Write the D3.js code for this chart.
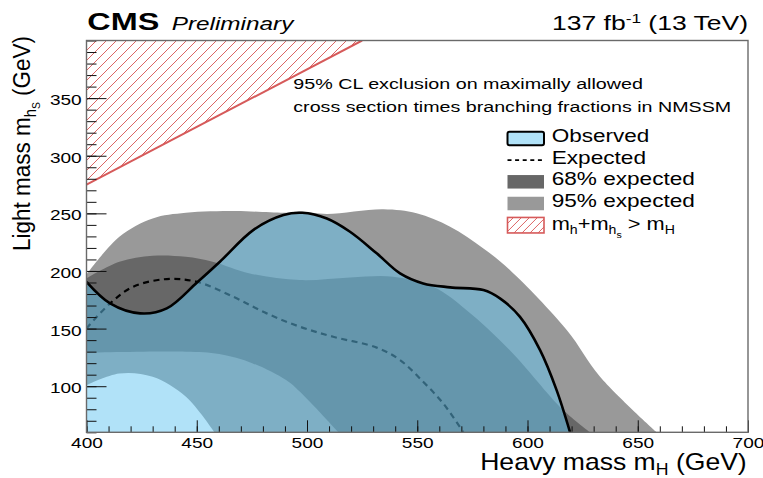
<!DOCTYPE html>
<html><head><meta charset="utf-8">
<script src="https://cdn.jsdelivr.net/npm/d3@7"></script>
<style>html,body{margin:0;padding:0;background:#fff;} svg{display:block;}</style>
</head><body>
<svg id="chart" width="763" height="478"></svg>
<script>
// ---------- data (GeV) ----------
const observedMH  = [400, 410.7, 424.3, 436.4, 450, 460.5, 475.6, 489.3, 497.8, 509, 519.5, 531.6, 542.2, 552.7, 564.9, 580, 587.5, 596.6, 605.7, 613.2, 619.3];
const observedMhs = [190.6, 171.9, 163.2, 167.5, 189.8, 208, 235.5, 248.5, 250.5, 245.5, 234, 215.3, 197.9, 189.2, 185.8, 183.4, 176.2, 160.2, 131.3, 96.6, 60];

const expectedMH  = [400, 410.7, 421.2, 436.4, 450, 466.6, 481.7, 496.8, 511.9, 531.6, 542.2, 552.7, 561.8, 570.9];
const expectedMhs = [150.2, 171.9, 186.3, 193, 190.6, 177.6, 163.2, 151.6, 142.9, 133.5, 122.7, 103.8, 85, 60];

const up95MH  = [400, 414.9, 430, 445.1, 467.8, 490.5, 497, 509, 534.6, 549.7, 564.9, 580, 592, 617.8, 632.9, 658.6];
const up95Mhs = [197, 229.7, 245.6, 250.5, 252, 250.5, 251.5, 249.4, 253.5, 250, 238.4, 219.6, 200.8, 148.7, 108.2, 60];
const lo95MH  = [400, 414.9, 430, 445.1, 458];
const lo95Mhs = [101, 111.1, 108.2, 90.8, 60];

const up68MH  = [400, 414.9, 430, 445, 457.2, 474.1, 496.8, 519.5, 539.1, 557.3, 572.4, 592, 616.2, 628.3];
const up68Mhs = [193.6, 208, 213.2, 212.3, 208, 197.9, 192.1, 194.4, 195, 186.3, 166, 131.3, 79.3, 60];
const lo68MH  = [400, 445, 460.2, 475.4, 490.5, 496.8, 514.2];
const lo68Mhs = [129, 129.9, 127.9, 119.8, 105.3, 95.1, 60];

// kinematic limit m_h + m_hs > m_H  (m_hs = m_H - 125)
const limitMH  = [400, 525];
const limitMhs = [275, 400];

const xDomain = [400, 700];
const yDomain = [60, 400];
const xMajorTicks = [400, 450, 500, 550, 600, 650, 700];
const yMajorTicks = [100, 150, 200, 250, 300, 350];
const xMinorTicks = d3.range(400, 701, 10);
const yMinorTicks = d3.range(60, 401, 10);

const legendLabels = ["Observed", "Expected", "68% expected", "95% expected", "limit"];

// ---------- setup ----------
const FONT = "'Liberation Sans', Arial, Helvetica, sans-serif";
const svg = d3.select("#chart").style("font-family", FONT);
const L = 86.5, R = 748, T = 40.5, B = 432.3;
const x = d3.scaleLinear().domain(xDomain).range([L, R]);
const y = d3.scaleLinear().domain(yDomain).range([B, T]);
const HATCH = "#dc6464";

const zip = (a, b) => a.map((v, i) => [v, b[i]]);
const lineGen = d3.line().x(d => x(d[0])).y(d => y(d[1])).curve(d3.curveCatmullRom.alpha(0.5));
const straight = d3.line().x(d => x(d[0])).y(d => y(d[1]));
const cont = p => p.replace(/^M/, "L");

const defs = svg.append("defs");
defs.append("clipPath").attr("id", "plotclip").append("rect")
  .attr("x", L).attr("y", T).attr("width", R - L).attr("height", B - T);
const hatchPoly = [[limitMH[0], limitMhs[0]], [limitMH[1], limitMhs[1]], [limitMH[0], limitMhs[1]]];
defs.append("clipPath").attr("id", "hatchclip").append("path").attr("d", straight(hatchPoly) + "Z");

const plot = svg.append("g").attr("clip-path", "url(#plotclip)");

// hatched kinematic region (explicit 45-degree lines, clipped to triangle)
const hg = plot.append("g").attr("clip-path", "url(#hatchclip)");
d3.range(L + T - 20, L + B + 400, 10).forEach(c => {
  hg.append("line").attr("x1", c - B).attr("y1", B).attr("x2", c - T + 10).attr("y2", T - 10)
    .attr("stroke", HATCH).attr("stroke-width", 1);
});
plot.append("path").attr("d", straight(zip(limitMH, limitMhs)))
  .attr("fill", "none").attr("stroke", "#d65a5a").attr("stroke-width", 2);

// 95% band
const up95 = zip(up95MH, up95Mhs), lo95 = zip(lo95MH, lo95Mhs);
plot.append("path").attr("d", lineGen(up95) + cont(lineGen(lo95.slice().reverse())) + "Z")
  .attr("fill", "#999999");
// 68% band
const up68 = zip(up68MH, up68Mhs), lo68 = zip(lo68MH, lo68Mhs);
plot.append("path").attr("d", lineGen(up68) + cont(lineGen(lo68.slice().reverse())) + "Z")
  .attr("fill", "#676767");

// ticks (under the translucent observed fill)
function ticks(axisFn, vals, size, tr) {
  const g = svg.append("g").attr("transform", tr)
    .call(axisFn.tickValues(vals).tickSize(size).tickFormat(""));
  g.select(".domain").remove();
  g.selectAll("line").attr("stroke", "#111").attr("stroke-width", 1);
  return g;
}
ticks(d3.axisBottom(x), xMinorTicks, -6, `translate(0,${B})`);
ticks(d3.axisBottom(x), xMajorTicks, -12, `translate(0,${B})`);
ticks(d3.axisLeft(y), yMinorTicks, -10, `translate(${L},0)`);
ticks(d3.axisLeft(y), yMajorTicks, -20, `translate(${L},0)`);

// expected (dashed)
plot.append("path").attr("d", lineGen(zip(expectedMH, expectedMhs)))
  .attr("fill", "none").attr("stroke", "#000").attr("stroke-width", 2.2)
  .attr("stroke-dasharray", "6,4.5");

// observed fill + line
const obs = zip(observedMH, observedMhs);
const OBS_FILL = "#63c6f1", OBS_OP = 0.5;
plot.append("path")
  .attr("d", lineGen(obs) + `L${x(observedMH[0])},${y(yDomain[0])}Z`)
  .attr("fill", OBS_FILL).attr("fill-opacity", OBS_OP);
plot.append("path").attr("d", lineGen(obs))
  .attr("fill", "none").attr("stroke", "#000").attr("stroke-width", 2.6);

// frame
svg.append("rect").attr("x", L).attr("y", T).attr("width", R - L).attr("height", B - T)
  .attr("fill", "none").attr("stroke", "#6a6a6a").attr("stroke-width", 1.4);

// ---------- text helpers ----------
function txt(xp, yp, size, anchor, opts = {}) {
  const g = svg.append("g").attr("transform", `translate(${xp},${yp})`);
  const t = g.append("text").attr("font-size", size).attr("text-anchor", anchor).attr("fill", "#000");
  if (opts.weight) t.attr("font-weight", opts.weight);
  if (opts.style) t.attr("font-style", opts.style);
  return { g, t, xp, yp, rot: opts.rot };
}
function fit(o, width) {
  const w = o.t.node().getComputedTextLength();
  const s = width / w;
  o.g.attr("transform", `translate(${o.xp},${o.yp})${o.rot ? " rotate(-90)" : ""} scale(${s},1)`);
}
function sub(t, s, size, dy) { t.append("tspan").attr("font-size", size).attr("dy", dy).text(s); }

// tick labels
const xl = svg.append("g").attr("transform", `translate(0,${B})`)
  .call(d3.axisBottom(x).tickValues(xMajorTicks).tickSize(0).tickFormat(d3.format("d")));
xl.select(".domain").remove();
xl.selectAll("text").attr("y", 0).attr("dy", null).attr("font-size", 15.5)
  .attr("font-family", FONT).attr("fill", "#000")
  .attr("transform", "translate(0,15.4) scale(1.23,1)");
const yl = svg.append("g").attr("transform", `translate(${L},0)`)
  .call(d3.axisLeft(y).tickValues(yMajorTicks).tickSize(0).tickFormat(d3.format("d")));
yl.select(".domain").remove();
yl.selectAll("text").attr("x", 0).attr("dy", "0.36em").attr("font-size", 15.5)
  .attr("font-family", FONT).attr("fill", "#000")
  .attr("transform", "translate(-4.8,1) scale(1.23,1)");

// header
let o = txt(87.3, 30, 24.5, "start", { weight: "bold" }); o.t.text("CMS"); fit(o, 72);
o = txt(171.7, 30, 18, "start", { style: "italic" }); o.t.text("Preliminary"); fit(o, 121.7);
o = txt(748, 30, 20, "end");
o.t.append("tspan").text("137 fb");
o.t.append("tspan").attr("font-size", 13).attr("dy", -7).text("-1");
o.t.append("tspan").attr("dy", 7).text(" (13 TeV)");
fit(o, 196);

// annotation
o = txt(293.3, 89.3, 15.5, "start"); o.t.text("95% CL exclusion on maximally allowed"); fit(o, 350);
o = txt(293.3, 111.7, 15.5, "start"); o.t.text("cross section times branching fractions in NMSSM"); fit(o, 438.3);

// axis titles
o = txt(746.7, 470, 24, "end");
o.t.append("tspan").text("Heavy mass m");
sub(o.t, "H", 16, 5);
o.t.append("tspan").attr("dy", -5).text(" (GeV)");
fit(o, 266.7);

o = txt(30, 36, 24, "end", { rot: true });
o.t.append("tspan").text("Light mass m");
sub(o.t, "h", 16, 6);
sub(o.t, "S", 11, 4);
o.t.append("tspan").attr("dy", -10).text("  (GeV)");
fit(o, 215);

// ---------- legend ----------
const LX = 507.5, LW = 36.5, LH = 13.5, LY0 = 138.4, LDY = 21.7, TX = 551.7;
const legendWidths = [97.7, 94.3, 143.3, 143.3, 123.3];
legendLabels.forEach((lab, i) => {
  const cy = LY0 + i * LDY;
  if (i === 0) {
    svg.append("rect").attr("x", LX).attr("y", cy - LH / 2).attr("width", LW).attr("height", LH)
      .attr("rx", 2).attr("fill", OBS_FILL).attr("fill-opacity", OBS_OP)
      .attr("stroke", "#000").attr("stroke-width", 2);
  } else if (i === 1) {
    svg.append("line").attr("x1", LX).attr("x2", LX + LW).attr("y1", cy).attr("y2", cy)
      .attr("stroke", "#000").attr("stroke-width", 1.6).attr("stroke-dasharray", "4,3.6");
  } else if (i === 2 || i === 3) {
    svg.append("rect").attr("x", LX).attr("y", cy - LH / 2).attr("width", LW).attr("height", LH)
      .attr("fill", i === 2 ? "#676767" : "#999999");
  } else {
    const by = cy - LH / 2 - 1, bh = LH + 2;
    defs.append("clipPath").attr("id", "legclip").append("rect")
      .attr("x", LX).attr("y", by).attr("width", LW).attr("height", bh);
    const lg = svg.append("g").attr("clip-path", "url(#legclip)");
    d3.range(LX + by - 10, LX + by + bh + LW + 20, 8).forEach(c => {
      lg.append("line").attr("x1", c - (by + bh)).attr("y1", by + bh).attr("x2", c - by).attr("y2", by)
        .attr("stroke", HATCH).attr("stroke-width", 1);
    });
    svg.append("rect").attr("x", LX).attr("y", by).attr("width", LW).attr("height", bh)
      .attr("fill", "none").attr("stroke", "#d65a5a").attr("stroke-width", 1.6);
  }
  const t = txt(TX, cy + 3.6 + (i === 4 ? 1 : 0), 18.5, "start");
  if (i < 4) {
    t.t.text(lab);
  } else {
    t.t.append("tspan").text("m");
    sub(t.t, "h", 12, 4);
    t.t.append("tspan").attr("dy", -4).text("+m");
    sub(t.t, "h", 12, 4);
    sub(t.t, "s", 9, 4);
    t.t.append("tspan").attr("dy", -8).text(" > m");
    sub(t.t, "H", 12, 4);
  }
  fit(t, legendWidths[i]);
});
</script>
</body></html>
